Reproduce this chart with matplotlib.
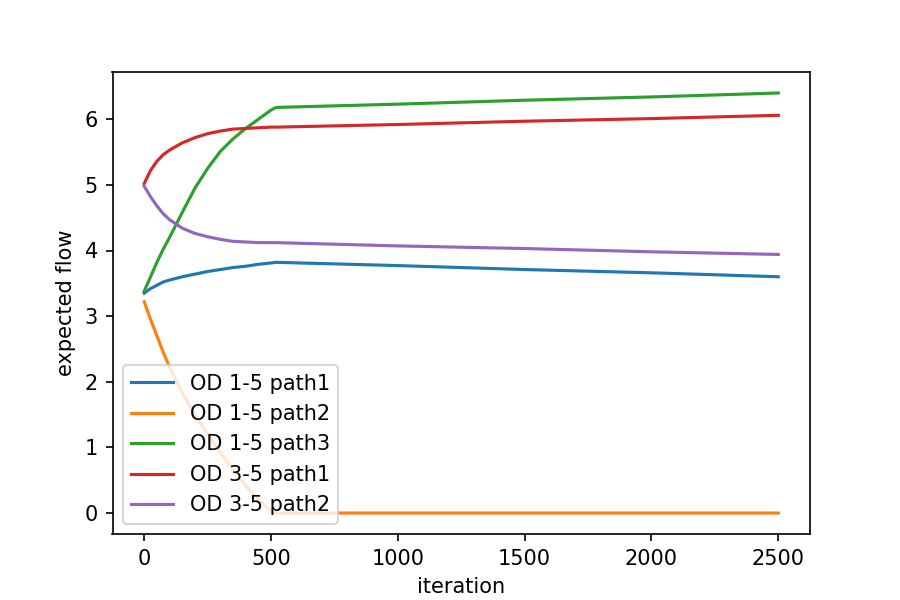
import matplotlib
matplotlib.use('Agg')
import matplotlib.pyplot as plt

# iteration values
iters = [0, 25, 50, 75, 100, 150, 200, 250, 300, 350, 400, 450, 500, 520, 1000, 1500, 2000, 2500]

od15_path1 = [3.35, 3.42, 3.47, 3.52, 3.55, 3.60, 3.64, 3.68, 3.71, 3.74, 3.76, 3.79, 3.81, 3.82, 3.77, 3.71, 3.66, 3.60]
od15_path2 = [3.22, 2.95, 2.70, 2.45, 2.22, 1.83, 1.50, 1.20, 0.92, 0.66, 0.42, 0.20, 0.03, 0.0, 0.0, 0.0, 0.0, 0.0]
od15_path3 = [3.38, 3.60, 3.82, 4.02, 4.20, 4.58, 4.95, 5.25, 5.51, 5.70, 5.86, 6.00, 6.14, 6.18, 6.23, 6.29, 6.34, 6.40]
od35_path1 = [5.02, 5.22, 5.36, 5.46, 5.53, 5.64, 5.72, 5.78, 5.82, 5.85, 5.86, 5.87, 5.88, 5.88, 5.92, 5.97, 6.01, 6.06]
od35_path2 = [4.98, 4.82, 4.68, 4.56, 4.47, 4.34, 4.26, 4.21, 4.17, 4.14, 4.13, 4.12, 4.12, 4.12, 4.07, 4.03, 3.98, 3.94]

labels = ['OD 1-5 path1', 'OD 1-5 path2', 'OD 1-5 path3', 'OD 3-5 path1', 'OD 3-5 path2']

plt.figure(figsize=(6, 4), dpi=150)
for series, label in zip([od15_path1, od15_path2, od15_path3, od35_path1, od35_path2], labels):
    plt.plot(iters, series, label=label)

plt.xlabel('iteration')
plt.ylabel('expected flow')
plt.legend(loc='lower left')
plt.savefig('out.png', dpi=150)
plt.close()
